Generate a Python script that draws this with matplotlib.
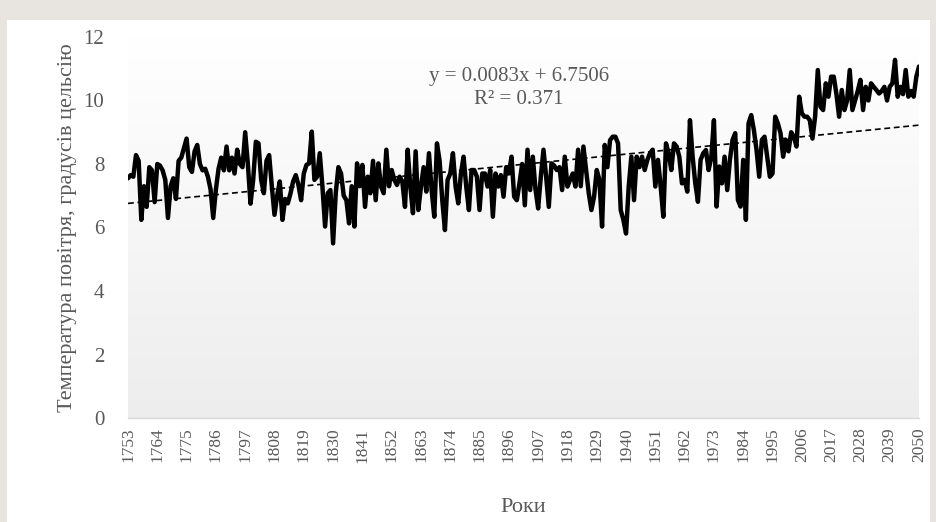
import numpy as np
import matplotlib
matplotlib.use("Agg")
import matplotlib.pyplot as plt
from matplotlib.patches import Rectangle

# ---------------- data ----------------
first_year = 1753
last_year = 2050

temps_1753_1796 = [
    7.55, 7.65, 7.6, 8.28, 8.1, 6.24, 7.3, 6.65, 7.9, 7.8, 6.8,
    8.0, 7.95, 7.8, 7.5, 6.3, 7.3, 7.55, 6.9, 8.1, 8.2, 8.5,
    8.8, 7.9, 7.75, 8.4, 8.6, 8.0, 7.8, 7.85, 7.6, 7.2, 6.3,
    7.2, 7.85, 8.2, 7.8, 8.55, 7.8, 8.2, 7.7, 8.45, 8.0, 7.9,
]
temps_1797_1851 = [
    9.0, 8.0, 6.75, 7.5, 8.7,
    8.65, 7.5, 7.08, 8.1, 8.28, 7.3, 6.4, 7.0, 7.45, 6.24,
    6.9, 6.76, 7.07, 7.45, 7.65, 7.34, 6.86, 7.7, 7.97, 8.02,
    9.02, 7.5, 7.6, 8.34, 7.29, 6.03, 7.08, 7.18, 5.5, 7.08,
    7.9, 7.7, 7.0, 6.86, 6.13, 7.3, 6.03, 8.02, 7.3, 7.97,
    6.65, 7.6, 7.08, 8.1, 6.86, 8.02, 7.29, 7.08, 8.45, 7.3,
]
temps_1852_1902 = [
    7.81, 7.5, 7.34, 7.6, 7.45, 6.65, 8.45, 7.29, 6.45, 8.4,
    6.55, 7.29, 7.9, 7.13, 8.34, 7.18, 6.34, 8.65, 8.1, 6.86,
    5.92, 7.5, 7.7, 8.34, 7.29, 6.76, 7.7, 8.23, 7.29, 6.55,
    7.81, 7.81, 7.6, 6.55, 7.7, 7.7, 7.29, 7.81, 6.34, 7.7,
    7.29, 7.65, 6.97, 7.9, 7.7, 8.23, 6.97, 6.86, 7.4, 8.0, 6.7,
]
temps_1903_1951 = [
    8.45, 7.18, 8.23, 7.2, 6.6, 7.6, 8.45, 7.6, 6.65, 8.02,
    7.95, 7.81, 7.9, 7.18, 8.23, 7.29, 7.5, 7.7, 7.29, 8.45,
    7.3, 8.55, 7.8, 7.08, 6.55, 6.97, 7.81, 7.5, 6.03, 8.6,
    7.9, 8.75, 8.86, 8.86, 8.65, 6.55, 6.24, 5.81, 7.29, 8.23,
    6.86, 8.23, 7.9, 8.23, 7.81, 8.13, 8.34, 8.45, 7.29,
]
temps_1952_2002 = [
    8.13, 7.29, 6.34, 8.65, 8.34, 7.81, 8.65, 8.55, 8.23, 7.39,
    7.5, 7.13, 9.38, 8.23, 7.39, 6.81, 8.13, 8.34, 8.44, 7.81,
    8.2, 9.38, 6.66, 7.92, 7.39, 8.23, 7.18, 8.13, 8.76, 8.97,
    6.87, 6.66, 8.13, 6.24, 9.28, 9.54, 9.07, 8.44, 7.6, 8.76,
    8.86, 8.23, 7.6, 7.7, 9.49, 9.28, 8.97, 8.23, 8.76, 8.4, 9.0,
]
temps_2003_2050 = [
    8.86, 8.55, 10.12, 9.6, 9.49, 9.49, 9.38, 8.8, 9.5, 10.96,
    9.8, 9.7, 10.54, 10.12, 10.75, 10.75, 10.2, 9.49, 10.33, 9.7,
    10.0, 10.96, 9.7, 10.0, 10.3, 10.65, 9.7, 10.43, 10.0, 10.54,
    10.43, 10.33, 10.22, 10.3, 10.43, 10.0, 10.43, 10.54, 11.28, 10.12,
    10.43, 10.2, 10.96, 10.12, 10.3, 10.12, 10.75, 11.07,
]

trend_slope = 0.0083
trend_intercept = 6.7506
r_squared = 0.371

tick_step = 11
y_ticks = [0, 2, 4, 6, 8, 10, 12]

x_label = "Роки"
y_label = "Температура повітря, градусів цельсію"

# ---------------- build ----------------
temps = np.array(temps_1753_1796 + temps_1797_1851 + temps_1852_1902 +
                 temps_1903_1951 + temps_1952_2002 + temps_2003_2050)
years = np.arange(first_year, last_year + 1)
n = len(years)
temps = temps[:n]
idx = np.arange(1, len(temps) + 1)

plt.rcParams['font.family'] = ['Liberation Serif', 'DejaVu Serif']
text_color = '#595959'

W, H = 937, 522
fig = plt.figure(figsize=(W / 100, H / 100), dpi=100)
fig.patch.set_facecolor('#e8e4e0')
# white chart panel
panel = Rectangle((7 / W, 0), (W - 14) / W, (H - 20) / H,
                  transform=fig.transFigure, facecolor='white',
                  edgecolor='none', zorder=-10)
fig.patches.append(panel)

left, right, top, bottom = 128, 919, 37, 418
ax = fig.add_axes([left / W, 1 - bottom / H, (right - left) / W, (bottom - top) / H])
ax.set_zorder(5)
ax.set_facecolor('none')

x0, x1 = 1, n
ax.set_xlim(x0, x1)
ax.set_ylim(0, 12)

# gradient fill of plot area
grad = np.linspace(1.0, 0.0, 256)
top_c = np.array([1.0, 1.0, 1.0])
bot_c = np.array([0.93, 0.93, 0.93])
img = (bot_c[None, :] + (top_c - bot_c)[None, :] * grad[:, None]).reshape(256, 1, 3)
ax.imshow(img, extent=[x0, x1, 0, 12], aspect='auto', zorder=0,
          interpolation='bilinear', origin='upper')

ax.plot(idx, temps[:len(idx)], color='black', lw=3.2, solid_joinstyle='round',
        solid_capstyle='round', zorder=3)
trend = trend_slope * idx + trend_intercept
ax.plot(idx, trend, color='black', lw=1.2, ls=(0, (3.5, 2.2)), zorder=4)

for s in ['top', 'right', 'left']:
    ax.spines[s].set_visible(False)
ax.spines['bottom'].set_color('#d9d9d9')
ax.spines['bottom'].set_linewidth(1.0)

tick_pos = idx[::tick_step]
ax.set_xticks(tick_pos)
ax.set_xticklabels([str(y) for y in years[::tick_step]], rotation=90,
                   fontsize=12.5, color=text_color)
ax.set_yticks(y_ticks)
ax.set_yticklabels([str(t) for t in y_ticks], fontsize=15, color=text_color)
ax.tick_params(axis='x', length=0, pad=7)
ax.tick_params(axis='y', length=0, pad=17)

ax.set_xlabel(x_label, fontsize=16, color=text_color, va='center')
ax.xaxis.set_label_coords(0.5, -(508 - bottom) / (bottom - top))
ax.set_ylabel(y_label, fontsize=16, color=text_color, va='center')
ax.yaxis.set_label_coords(-(left - 68) / (right - left), 0.5)

eq = f"y = {trend_slope:.4f}x + {trend_intercept:.4f}\nR² = {r_squared:.3f}"
ax.text((519 - left) / (right - left), (bottom - 88) / (bottom - top), eq,
        transform=ax.transAxes, ha='center', va='center', fontsize=15,
        color=text_color, linespacing=1.25, zorder=5)

fig.savefig('out.png', dpi=100, facecolor=fig.get_facecolor())
